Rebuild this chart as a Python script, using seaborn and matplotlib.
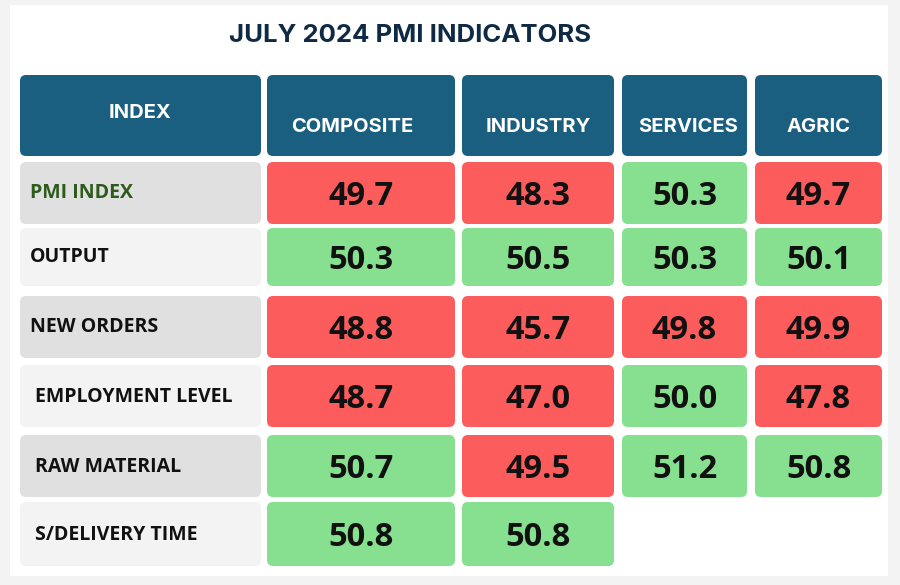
import matplotlib
matplotlib.use("Agg")
import matplotlib.pyplot as plt
from matplotlib.patches import FancyBboxPatch, Rectangle
import seaborn as sns

# data
sectors = ["COMPOSITE", "INDUSTRY", "SERVICES", "AGRIC"]
indices = ["PMI INDEX", "OUTPUT", "NEW ORDERS", "EMPLOYMENT LEVEL",
           "RAW MATERIAL", "S/DELIVERY TIME"]
composite = [49.7, 50.3, 48.8, 48.7, 50.7, 50.8]
industry = [48.3, 50.5, 45.7, 47.0, 49.5, 50.8]
services = [50.3, 50.3, 49.8, 50.0, 51.2, None]
agric = [49.7, 50.1, 49.9, 47.8, 50.8, None]
threshold = 50.0

columns = [composite, industry, services, agric]

sns.set_theme(style="white")
plt.rcParams["font.family"] = ["Open Sans", "DejaVu Sans"]

HEADER = "#1a5e80"
RED = "#fd5c5c"
GREEN = "#86e08f"
GRAY_DARK = "#e0e0e0"
GRAY_LIGHT = "#f4f3f4"

# layout (pixel units, y goes down)
col_edges = [(20, 261), (267, 455), (462, 614), (622, 747), (755, 882)]
head_edge = (75, 156)
row_edges = [(162, 224), (228, 286), (296, 358), (365, 427), (435, 497), (502, 566)]
head_shift = [-9, 0, 4, 0]

fig = plt.figure(figsize=(9, 5.85), dpi=100, facecolor="#f3f3f3")
ax = fig.add_axes([0, 0, 1, 1])
ax.set_xlim(0, 900)
ax.set_ylim(585, 0)
ax.axis("off")

ax.add_patch(Rectangle((10, 5), 878, 571, facecolor="white", edgecolor="none"))

def cell(x0, x1, y0, y1, color):
    ax.add_patch(FancyBboxPatch((x0, y0), x1 - x0, y1 - y0,
                                boxstyle="round,pad=0,rounding_size=6",
                                facecolor=color, edgecolor="none"))

ax.text(410, 42, "JULY 2024 PMI INDICATORS", ha="center", va="baseline",
        fontsize=18.5, fontweight="bold", color="#0f2a44", family="Inter")

# header row
hy0, hy1 = head_edge
cell(col_edges[0][0], col_edges[0][1], hy0, hy1, HEADER)
ax.text(sum(col_edges[0]) / 2, 117.5, "INDEX", ha="center", va="baseline",
        fontsize=14.5, fontweight="bold", color="white", family="Inter")
for j, name in enumerate(sectors):
    x0, x1 = col_edges[j + 1]
    cell(x0, x1, hy0, hy1, HEADER)
    ax.text((x0 + x1) / 2 + head_shift[j], 132.5, name, ha="center",
            va="baseline", fontsize=14.5, fontweight="bold", color="white",
            family="Inter")

# body rows
for i, label in enumerate(indices):
    y0, y1 = row_edges[i]
    ym = (y0 + y1) / 2
    cell(col_edges[0][0], col_edges[0][1], y0, y1,
         GRAY_DARK if i % 2 == 0 else GRAY_LIGHT)
    ax.text(30 if i < 3 else 35, ym + 5.5, label, ha="left", va="baseline",
            fontsize=14, fontweight="bold",
            color="#2e5a1c" if i == 0 else "#111111")
    for j, vals in enumerate(columns):
        v = vals[i]
        if v is None:
            continue
        x0, x1 = col_edges[j + 1]
        cell(x0, x1, y0, y1, RED if v < threshold else GREEN)
        ax.text((x0 + x1) / 2, ym + 12, f"{v:.1f}", ha="center", va="baseline",
                fontsize=23.5, fontweight="bold", color="#111111")

fig.savefig("out.png", dpi=100, facecolor=fig.get_facecolor())
